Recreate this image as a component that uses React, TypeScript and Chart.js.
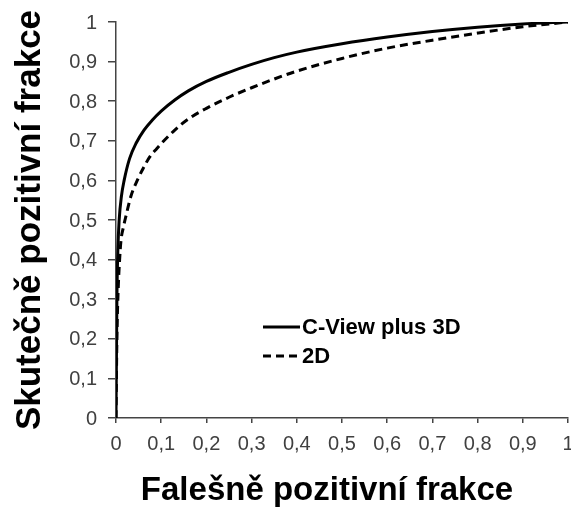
import React, { useEffect, useRef } from "react";
import { Chart, registerables } from "chart.js";

Chart.register(...registerables);

const xTitle = "Falešně pozitivní frakce";
const yTitle = "Skutečně pozitivní frakce";
const seriesLabels = ["C-View plus 3D", "2D"];
const tickValues = [0, 0.1, 0.2, 0.3, 0.4, 0.5, 0.6, 0.7, 0.8, 0.9, 1];
const tickLabels = ["0", "0,1", "0,2", "0,3", "0,4", "0,5", "0,6", "0,7", "0,8", "0,9", "1"];

const cviewFpr = [0, 0.002, 0.004, 0.007, 0.012, 0.018, 0.03, 0.045, 0.062, 0.08, 0.1, 0.13, 0.16, 0.2, 0.25, 0.3, 0.35, 0.4, 0.5, 0.6, 0.7, 0.8, 0.9, 1];
const cviewTpr = [0, 0.3, 0.42, 0.5, 0.56, 0.6, 0.655, 0.695, 0.727, 0.752, 0.775, 0.803, 0.826, 0.85, 0.873, 0.893, 0.91, 0.924, 0.945, 0.962, 0.976, 0.987, 0.995, 1];

const d2Fpr = [0, 0.002, 0.005, 0.008, 0.011, 0.016, 0.022, 0.033, 0.047, 0.06, 0.075, 0.09, 0.106, 0.13, 0.16, 0.2, 0.25, 0.3, 0.35, 0.4, 0.5, 0.6, 0.7, 0.8, 0.9, 1];
const d2Tpr = [0, 0.2, 0.33, 0.4, 0.448, 0.48, 0.51, 0.56, 0.6, 0.63, 0.66, 0.68, 0.7, 0.727, 0.755, 0.782, 0.81, 0.834, 0.856, 0.876, 0.908, 0.934, 0.954, 0.972, 0.988, 1];

const toPts = (xs: number[], ys: number[]) => xs.map((x, i) => ({ x, y: ys[i] }));

const FONT = "Arial, 'Liberation Sans', sans-serif";

const overlayPlugin = {
  id: "overlay",
  afterDraw(chart: any) {
    const { ctx, chartArea } = chart;
    const xs = chart.scales.x;
    const ys = chart.scales.y;
    ctx.save();
    // tick labels
    ctx.fillStyle = "#404040";
    ctx.font = `20px ${FONT}`;
    ctx.textBaseline = "middle";
    ctx.textAlign = "center";
    tickValues.forEach((v, i) => {
      ctx.fillText(tickLabels[i], xs.getPixelForValue(v), chartArea.bottom + 26);
    });
    ctx.textAlign = "right";
    tickValues.forEach((v, i) => {
      ctx.fillText(tickLabels[i], chartArea.left - 19, ys.getPixelForValue(v) + 1);
    });
    // axis titles
    ctx.fillStyle = "#000";
    ctx.textAlign = "center";
    ctx.font = `bold 33px ${FONT}`;
    ctx.fillText(xTitle, 327, 491);
    ctx.save();
    ctx.font = `bold 35px ${FONT}`;
    ctx.translate(30, (chartArea.top + chartArea.bottom) / 2);
    ctx.rotate(-Math.PI / 2);
    ctx.fillText(yTitle, 0, 0);
    ctx.restore();
    // legend
    const lx = 263;
    const ly = [327, 356];
    ctx.font = `bold 22px ${FONT}`;
    ctx.textAlign = "left";
    chart.data.datasets.forEach((ds: any, i: number) => {
      ctx.beginPath();
      ctx.strokeStyle = ds.borderColor;
      ctx.lineWidth = ds.borderWidth;
      ctx.setLineDash(ds.borderDash || []);
      ctx.moveTo(lx, ly[i]);
      ctx.lineTo(lx + 37, ly[i]);
      ctx.stroke();
      ctx.setLineDash([]);
      ctx.fillStyle = "#000";
      ctx.fillText(ds.label, lx + 39, ly[i] + 1);
    });
    ctx.restore();
  },
};

export default function App() {
  const ref = useRef<HTMLCanvasElement>(null);
  useEffect(() => {
    if (!ref.current) return;
    const chart = new Chart(ref.current, {
      type: "scatter",
      data: {
        datasets: [
          {
            label: seriesLabels[0],
            data: toPts(cviewFpr, cviewTpr),
            showLine: true,
            borderColor: "#000",
            borderWidth: 3,
            pointRadius: 0,
            cubicInterpolationMode: "monotone",
          },
          {
            label: seriesLabels[1],
            data: toPts(d2Fpr, d2Tpr),
            showLine: true,
            borderColor: "#000",
            borderWidth: 3,
            borderDash: [8, 5],
            pointRadius: 0,
            cubicInterpolationMode: "monotone",
          },
        ],
      },
      options: {
        responsive: false,
        animation: false,
        layout: { padding: { top: 22, right: 12, left: 0, bottom: 0 } },
        plugins: { legend: { display: false }, tooltip: { enabled: false } },
        scales: {
          x: {
            type: "linear",
            min: 0,
            max: 1,
            afterFit: (s: any) => { s.height = 90; },
            border: { color: "#444", width: 1.5 },
            grid: { drawOnChartArea: false, tickLength: 5, color: "#444", lineWidth: 1.5 },
            ticks: { stepSize: 0.1, display: false },
          },
          y: {
            type: "linear",
            min: 0,
            max: 1,
            afterFit: (s: any) => { s.width = 116; },
            border: { color: "#444", width: 1.5 },
            grid: { drawOnChartArea: false, tickLength: 8, color: "#444", lineWidth: 1.5 },
            ticks: { stepSize: 0.1, display: false },
          },
        },
      },
      plugins: [overlayPlugin],
    } as any);
    return () => chart.destroy();
  }, []);
  return (
    <div style={{ position: "absolute", left: 0, top: 0, width: 571, height: 508, overflow: "hidden", background: "#fff" }}>
      <canvas ref={ref} width={580} height={508} style={{ display: "block" }} />
    </div>
  );
}
